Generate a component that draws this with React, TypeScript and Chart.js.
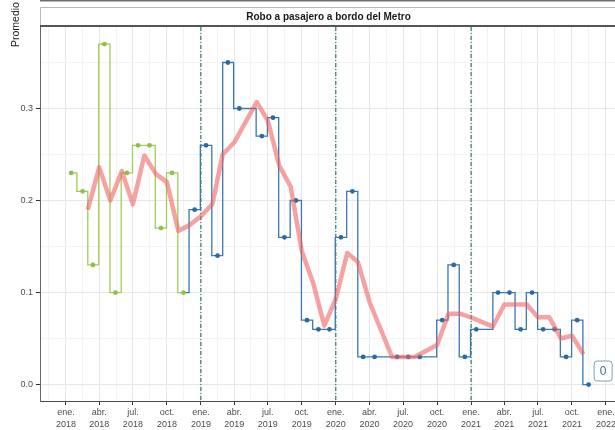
import React, { useEffect, useRef } from "react";
import { Chart, registerables } from "chart.js";

Chart.register(...registerables);

// ---------- data ----------
const greenMonths = [
  "2018-01", "2018-02", "2018-03", "2018-04", "2018-05", "2018-06",
  "2018-07", "2018-08", "2018-09", "2018-10", "2018-11",
];
const greenValues = [0.23, 0.21, 0.13, 0.37, 0.1, 0.23, 0.26, 0.26, 0.17, 0.23, 0.1];

const blueMonths = [
  "2018-11", "2018-12",
  "2019-01", "2019-02", "2019-03", "2019-04", "2019-05", "2019-06",
  "2019-07", "2019-08", "2019-09", "2019-10", "2019-11", "2019-12",
  "2020-01", "2020-02", "2020-03", "2020-04", "2020-05", "2020-06",
  "2020-07", "2020-08", "2020-09", "2020-10", "2020-11", "2020-12",
  "2021-01", "2021-02", "2021-03", "2021-04", "2021-05", "2021-06",
  "2021-07", "2021-08", "2021-09", "2021-10", "2021-11",
];
const blueValues = [
  0.1, 0.19,
  0.26, 0.14, 0.35, 0.3, 0.3, 0.27, 0.29, 0.16, 0.2, 0.07, 0.06, 0.06,
  0.16, 0.21, 0.03, 0.03, 0.03, 0.03, 0.03, 0.03, 0.03, 0.07, 0.13, 0.03,
  0.06, 0.06, 0.1, 0.1, 0.06, 0.1, 0.06, 0.06, 0.03, 0.07, 0.0,
];
// months whose value is carried by the step line but has no recorded marker
const blueUnmarkedMonths = ["2018-11", "2019-05", "2020-05", "2020-09", "2021-02"];

const trendMonths = [
  "2018-03", "2018-04", "2018-05", "2018-06", "2018-07", "2018-08",
  "2018-09", "2018-10", "2018-11", "2018-12",
  "2019-01", "2019-02", "2019-03", "2019-04", "2019-05", "2019-06",
  "2019-07", "2019-08", "2019-09", "2019-10", "2019-11", "2019-12",
  "2020-01", "2020-02", "2020-03", "2020-04", "2020-05", "2020-06",
  "2020-07", "2020-08", "2020-09", "2020-10", "2020-11", "2020-12",
  "2021-01", "2021-02", "2021-03", "2021-04", "2021-05", "2021-06",
  "2021-07", "2021-08", "2021-09", "2021-10", "2021-11",
];
const trendValues: (number | null)[] = [
  0.19, 0.236, 0.2, 0.232, 0.196, 0.249, 0.229, 0.22, 0.167, 0.173,
  0.183, 0.196, 0.25, 0.263, null, 0.307, 0.287, 0.238, 0.215, 0.145, 0.11, 0.064,
  0.093, 0.143, 0.133, 0.09, null, 0.03, 0.03, 0.03, null, 0.043, 0.077, 0.077,
  0.073, null, 0.063, 0.087, 0.087, 0.087, 0.073, 0.073, 0.05, 0.053, 0.033,
];

const yearStartMarks = ["2019-01", "2020-01", "2021-01"];

const xTickMonths = [
  "2018-01", "2018-04", "2018-07", "2018-10",
  "2019-01", "2019-04", "2019-07", "2019-10",
  "2020-01", "2020-04", "2020-07", "2020-10",
  "2021-01", "2021-04", "2021-07", "2021-10",
  "2022-01",
];
const monthAbbr = ["ene.", "feb.", "mar.", "abr.", "may.", "jun.", "jul.", "ago.", "sep.", "oct.", "nov.", "dic."];
const yMajorTicks = [0, 0.1, 0.2, 0.3];
const yMinorTicks = [0.05, 0.15, 0.25, 0.35];

const stripTitle = "Robo a pasajero a bordo del Metro";
const yTitle = "Promedio diario de víctimas";

// ---------- helpers ----------
const DAY_MS = 86400000;
const ORIGIN = Date.UTC(2018, 0, 1);
function dayOf(ym: string, d: number): number {
  const [y, m] = ym.split("-").map(Number);
  return (Date.UTC(y, m - 1, d) - ORIGIN) / DAY_MS;
}

const X_MIN = -70.3;
const X_MAX = 1485.4;
const Y_MIN = -0.0179;
const Y_MAX = 0.3886;

const xMajor = xTickMonths.map((m) => dayOf(m, 1));
const xMinor: number[] = [(dayOf("2017-10", 1) + xMajor[0]) / 2];
for (let i = 0; i < xMajor.length - 1; i++) xMinor.push((xMajor[i] + xMajor[i + 1]) / 2);
const xLabelMap = new Map<number, string[]>();
xTickMonths.forEach((m, i) => {
  const [y, mm] = m.split("-").map(Number);
  xLabelMap.set(xMajor[i], [monthAbbr[mm - 1], String(y)]);
});
const xAllTicks = [...xMajor, ...xMinor].sort((a, b) => a - b);
const yAllTicks = [...yMajorTicks, ...yMinorTicks].sort((a, b) => a - b);
const isYMajor = (v: number) => yMajorTicks.some((t) => Math.abs(t - v) < 1e-9);
const isXMajor = (v: number) => xLabelMap.has(v);

const FONT = "'Liberation Sans', Arial, Helvetica, sans-serif";
const BLUE_LINE = "#3a78b2";
const BLUE_PT = "#2b69a2";
const GREEN_LINE = "#a2cc58";
const GREEN_PT = "#8fc044";
const TREND = "rgba(240, 95, 95, 0.58)";
const VLINE = "#2a7d62";

const decorPlugin = {
  id: "decor",
  beforeDatasetsDraw(chart: any) {
    const { ctx, chartArea, scales } = chart;
    ctx.save();
    ctx.strokeStyle = VLINE;
    ctx.lineWidth = 1.2;
    ctx.setLineDash([4, 2, 1, 2]);
    yearStartMarks.forEach((m) => {
      const x = scales.x.getPixelForValue(dayOf(m, 1));
      ctx.beginPath();
      ctx.moveTo(x, chartArea.top);
      ctx.lineTo(x, chartArea.bottom);
      ctx.stroke();
    });
    ctx.restore();
  },
  afterDraw(chart: any) {
    const { ctx, chartArea, width } = chart;
    ctx.save();
    // line at very top (edge of a panel above)
    ctx.strokeStyle = "#6e6e6e";
    ctx.lineWidth = 1.5;
    ctx.beginPath();
    ctx.moveTo(chartArea.left, 0.75);
    ctx.lineTo(width, 0.75);
    ctx.stroke();

    // strip
    const sTop = 7.5;
    const sBot = chartArea.top - 1;
    ctx.fillStyle = "#ffffff";
    ctx.fillRect(chartArea.left, sTop, width - chartArea.left, sBot - sTop);
    ctx.strokeStyle = "#b8b8b8";
    ctx.lineWidth = 1;
    ctx.beginPath();
    ctx.moveTo(chartArea.left + 0.5, sBot);
    ctx.lineTo(chartArea.left + 0.5, sTop);
    ctx.lineTo(width, sTop);
    ctx.stroke();
    ctx.strokeStyle = "#555555";
    ctx.lineWidth = 2;
    ctx.beginPath();
    ctx.moveTo(chartArea.left, sBot);
    ctx.lineTo(width, sBot);
    ctx.stroke();
    ctx.fillStyle = "#1a1a1a";
    ctx.font = `bold 10px ${FONT}`;
    ctx.textAlign = "center";
    ctx.textBaseline = "middle";
    ctx.fillText(stripTitle, (chartArea.left + width) / 2 + 1, (sTop + sBot) / 2 + 0.5);

    // y title (rotated)
    ctx.save();
    ctx.translate(18.5, 47);
    ctx.rotate(-Math.PI / 2);
    ctx.textAlign = "left";
    ctx.textBaseline = "alphabetic";
    ctx.font = `10.5px ${FONT}`;
    ctx.fillStyle = "#1a1a1a";
    ctx.fillText(yTitle, 0, 0);
    ctx.restore();

    // label for last value
    const meta = chart.getDatasetMeta(1);
    const last = meta.data[meta.data.length - 1];
    const lastVal = blueValues[blueValues.length - 1];
    if (last) {
      const cx = last.x + 14;
      const cy = last.y - 14;
      const w = 18, h = 20;
      ctx.beginPath();
      (ctx as any).roundRect(cx - w / 2 + 0.5, cy - h / 2 + 0.5, w, h, 3);
      ctx.fillStyle = "#ffffff";
      ctx.fill();
      ctx.strokeStyle = "#7f9fbf";
      ctx.lineWidth = 1;
      ctx.stroke();
      ctx.fillStyle = "#3a6e9f";
      ctx.font = `12px ${FONT}`;
      ctx.textAlign = "center";
      ctx.textBaseline = "middle";
      ctx.fillText(String(lastVal), cx + 0.5, cy + 1);
    }
    ctx.restore();
  },
};

export default function App() {
  const ref = useRef<HTMLCanvasElement>(null);

  useEffect(() => {
    const canvas = ref.current;
    if (!canvas) return;

    const trendData = trendMonths.map((m, i) => ({ x: dayOf(m, 1), y: trendValues[i] }));
    const blueData = blueMonths.map((m, i) => ({ x: dayOf(m, 15), y: blueValues[i] }));
    const greenData = greenMonths.map((m, i) => ({ x: dayOf(m, 15), y: greenValues[i] }));
    const blueRadii = blueMonths.map((m) => (blueUnmarkedMonths.includes(m) ? 0 : 2.4));

    const chart = new Chart(canvas, {
      type: "line",
      data: {
        datasets: [
          {
            label: "tendencia",
            data: trendData as any,
            borderColor: TREND,
            borderWidth: 4.5,
            pointRadius: 0,
            spanGaps: true,
            tension: 0,
            borderJoinStyle: "round",
            order: 0,
          },
          {
            label: "2019-2021",
            data: blueData as any,
            borderColor: BLUE_LINE,
            backgroundColor: BLUE_PT,
            pointBackgroundColor: BLUE_PT,
            pointBorderWidth: 0,
            pointRadius: blueRadii,
            borderWidth: 1.3,
            stepped: "middle",
            order: 2,
          },
          {
            label: "2018",
            data: greenData as any,
            borderColor: GREEN_LINE,
            backgroundColor: GREEN_PT,
            pointBackgroundColor: GREEN_PT,
            pointBorderWidth: 0,
            pointRadius: 2.4,
            borderWidth: 1.3,
            stepped: "middle",
            order: 1,
          },
        ],
      },
      options: {
        responsive: false,
        maintainAspectRatio: false,
        animation: false,
        events: [],
        layout: { padding: { top: 27, left: 0, right: 0, bottom: 0 }, autoPadding: false },
        plugins: { legend: { display: false }, tooltip: { enabled: false } },
        scales: {
          x: {
            type: "linear",
            min: X_MIN,
            max: X_MAX,
            afterBuildTicks: (s: any) => {
              s.ticks = xAllTicks.map((v) => ({ value: v }));
            },
            afterFit: (s: any) => {
              s.height = 29;
              s.paddingLeft = 0;
              s.paddingRight = 0;
            },
            ticks: {
              autoSkip: false,
              maxRotation: 0,
              minRotation: 0,
              padding: 1,
              color: "#4d4d4d",
              font: { family: FONT, size: 9, lineHeight: 1.35 },
              callback: (v: any) => xLabelMap.get(v) || "",
            },
            grid: {
              color: (c: any) => (c.tick && isXMajor(c.tick.value) ? "#e6e6e6" : "#f3f3f3"),
              lineWidth: 1,
              tickLength: 4,
              tickColor: (c: any) => (c.tick && isXMajor(c.tick.value) ? "#333333" : "rgba(0,0,0,0)"),
              tickWidth: 1,
            },
            border: { display: true, color: "#4d4d4d", width: 1 },
          },
          y: {
            type: "linear",
            min: Y_MIN,
            max: Y_MAX,
            afterBuildTicks: (s: any) => {
              s.ticks = yAllTicks.map((v) => ({ value: v }));
            },
            afterFit: (s: any) => {
              s.width = 40;
              s.paddingTop = 0;
              s.paddingBottom = 0;
            },
            ticks: {
              autoSkip: false,
              padding: 3,
              color: "#4d4d4d",
              font: { family: FONT, size: 9 },
              callback: (v: any) => (isYMajor(v) ? Number(v).toFixed(1) : ""),
            },
            grid: {
              color: (c: any) => (c.tick && isYMajor(c.tick.value) ? "#e6e6e6" : "#f3f3f3"),
              lineWidth: 1,
              tickLength: 4,
              tickColor: (c: any) => (c.tick && isYMajor(c.tick.value) ? "#333333" : "rgba(0,0,0,0)"),
              tickWidth: 1,
            },
            border: { display: true, color: "#666666", width: 1 },
          },
        },
      },
      plugins: [decorPlugin],
    });

    return () => chart.destroy();
  }, []);

  return (
    <div style={{ position: "fixed", left: 0, top: 0, width: 615, height: 430, background: "#ffffff" }}>
      <canvas ref={ref} width={615} height={430} style={{ display: "block", width: 615, height: 430 }} />
    </div>
  );
}
